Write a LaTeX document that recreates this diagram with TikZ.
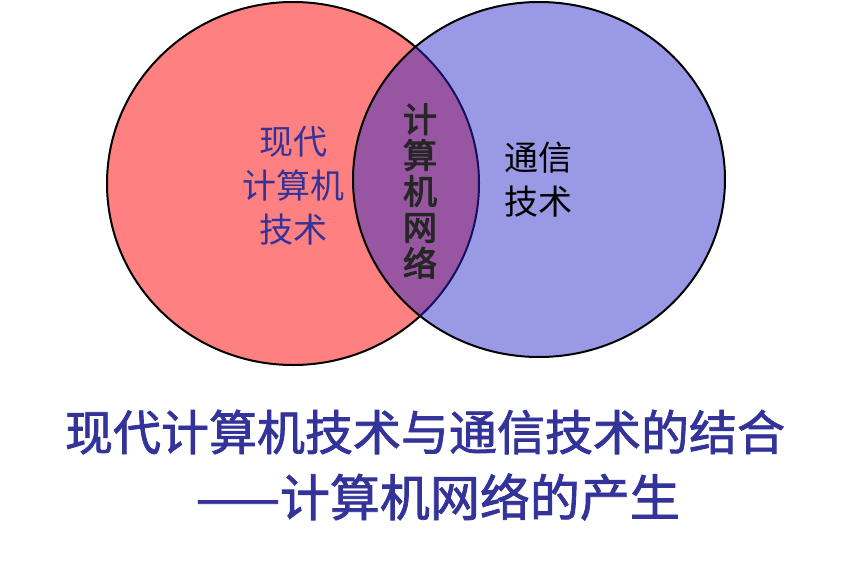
\documentclass[tikz,border=0pt]{standalone}
\usepackage{fontspec}
\newfontfamily\cjk{Noto Sans CJK SC}
\newfontfamily\cjkheavy[FakeBold=1.6]{Noto Sans CJK SC}
\newfontfamily\cjkdark[FakeBold=3]{Noto Sans CJK SC}
\usepackage{tikz}
\usetikzlibrary{shapes.geometric}
\usepackage{xcolor}
\definecolor{setred}{RGB}{255,128,128}
\definecolor{setblue}{RGB}{38,38,202}
\definecolor{labelblue}{RGB}{51,51,153}

\begin{document}
\begin{tikzpicture}[
        x=1pt, y=-1pt,
        setellipse/.style={
            ellipse,
            inner sep=0pt,
            draw=black,
            line width=2pt
        },
        setlabel/.style={
            align=center,
            inner sep=0pt,
            font=\cjk\fontsize{34}{44}\selectfont % Label size here
        },
        caption/.style={
            anchor=center,
            inner sep=0pt,
            text=labelblue,
            font=\cjkheavy\fontsize{48}{56}\selectfont
        }
    ]
\useasboundingbox (0,0) rectangle (844,563);

% The two sets: red drawn first, blue laid over it
        \node[setellipse, fill=setred, minimum width=372pt, minimum height=363pt]
            (computing) at (293,183.5) {};
        \node[setellipse, fill=setblue, fill opacity=0.47, minimum width=372pt, minimum height=355pt]
            (comms) at (539,179.5) {};

% Labels inside the sets
        \node[setlabel, text=labelblue] (computinglabel) at (293,186) {现代\\计算机\\技术};
        \node[setlabel] (commslabel) at (538,180) {通信\\技术};

% Overlap: written top to bottom
        \node[setlabel, text=black!85, font=\cjkdark\fontsize{34}{36}\selectfont]
            (network) at (420,191) {计\\算\\机\\网\\络};

% Caption under the diagram
        \node[caption] (caption1) at (425,432) {现代计算机技术与通信技术的结合};
        \node[caption, font=\cjkheavy\fontsize{50}{56}\selectfont] (caption2) at (438,497) {——计算机网络的产生};

    \end{tikzpicture}
\end{document}
